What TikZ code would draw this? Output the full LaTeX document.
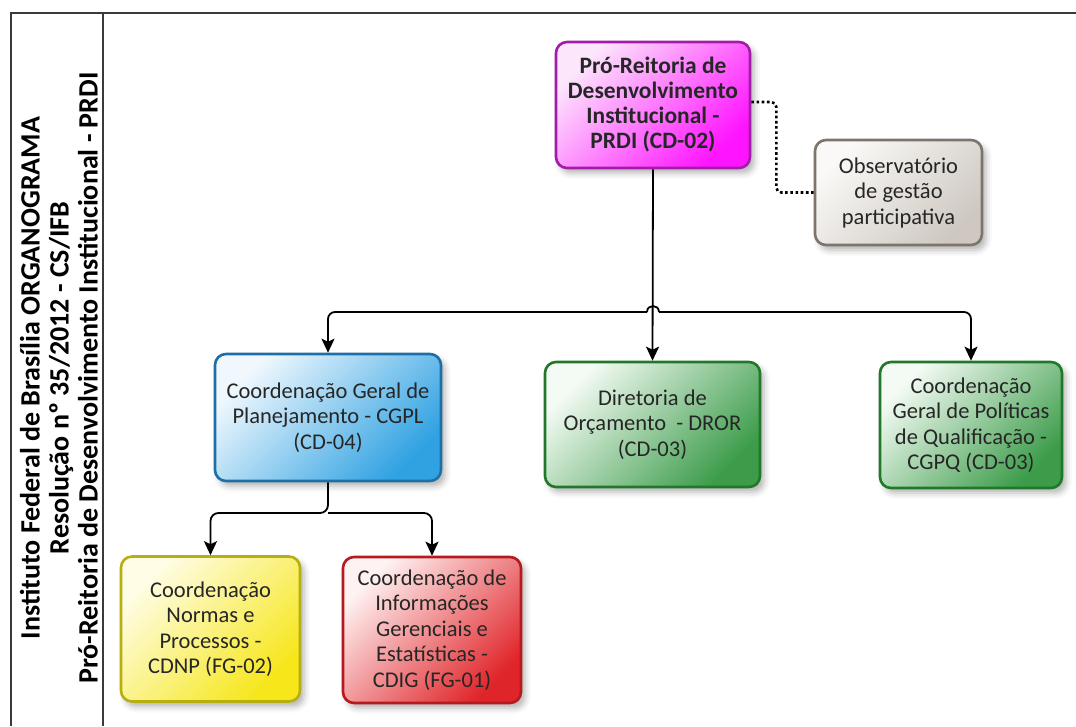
\documentclass[tikz,border=0pt]{standalone}
\usepackage{fontspec}
\setmainfont{Carlito}
\usetikzlibrary{arrows.meta,shadows.blur}

\definecolor{txt}{HTML}{262626}
\definecolor{framec}{HTML}{3A3A3A}
\definecolor{prdiB}{HTML}{A21CA8}
\definecolor{prdiL}{HTML}{FCE6FC}
\definecolor{prdiD}{HTML}{FF14FF}
\definecolor{obsB}{HTML}{7D746C}
\definecolor{obsL}{HTML}{FAF9F7}
\definecolor{obsD}{HTML}{CEC8C1}
\definecolor{bluB}{HTML}{1F6EA6}
\definecolor{bluL}{HTML}{F0F8FE}
\definecolor{bluD}{HTML}{30A2E2}
\definecolor{grnB}{HTML}{22782A}
\definecolor{grnL}{HTML}{F4FBF4}
\definecolor{grnD}{HTML}{3C9C4A}
\definecolor{yelB}{HTML}{B7AE10}
\definecolor{yelL}{HTML}{FFFDE6}
\definecolor{yelD}{HTML}{F6E61A}
\definecolor{redB}{HTML}{B41A1E}
\definecolor{redL}{HTML}{FFF2F2}
\definecolor{redD}{HTML}{E0252A}

\begin{document}
\begin{tikzpicture}[x=1pt,y=-1pt,
  box/.style={rounded corners=11pt, line width=2.6pt, align=center,
    inner sep=0pt, text=txt, font=\fontsize{22.5}{25.5}\selectfont,
    blur shadow={shadow xshift=4pt, shadow yshift=-5pt,
      shadow blur radius=6pt, shadow opacity=30}},
  tint/.style n args={3}{draw=#1, top color=#2, bottom color=#3, shading angle=45},
  conn/.style={line width=1.8pt, black},
  arr/.style={conn, -{Stealth[length=14pt, width=13pt, inset=3pt]}},
  dotc/.style={line width=2.6pt, black, dash pattern=on 2.6pt off 2.6pt}
]
\useasboundingbox (0,0) rectangle (1076,726);

% page frame with title column
\draw[line width=1.8pt, framec] (11,726) -- (11,13) -- (1076,13);
\draw[line width=1.8pt, framec] (103,13) -- (103,726);
\node[rotate=90, align=center, text=black, inner sep=0pt,
      font=\bfseries\fontsize{28}{29}\selectfont] (title) at (59,378)
  {Instituto Federal de Brasília ORGANOGRAMA\\
   Resolução nº 35/2012 - CS/IFB\\
   Pró-Reitoria de Desenvolvimento Institucional - PRDI};

% units
\node[box, tint={prdiB}{prdiL}{prdiD}, minimum width=194pt, minimum height=126pt,
      font=\bfseries\fontsize{23.5}{25}\selectfont] (prdi) at (653,105)
  {Pró-Reitoria de\\Desenvolvimento\\Institucional -\\PRDI (CD-02)};
\node[box, tint={obsB}{obsL}{obsD}, minimum width=167pt, minimum height=105pt] (obs) at (898.5,192.5)
  {Observatório\\de gestão\\participativa};
\node[box, tint={bluB}{bluL}{bluD}, minimum width=226pt, minimum height=127pt] (cgpl) at (328,417.5)
  {Coordenação Geral de\\Planejamento - CGPL\\(CD-04)};
\node[box, tint={grnB}{grnL}{grnD}, minimum width=215pt, minimum height=125pt] (dror) at (652.5,424.5)
  {Diretoria de\\Orçamento\ \ - DROR\\(CD-03)};
\node[box, tint={grnB}{grnL}{grnD}, minimum width=182pt, minimum height=126pt] (cgpq) at (971,425)
  {Coordenação\\Geral de Políticas\\de Qualificação -\\CGPQ (CD-03)};
\node[box, tint={yelB}{yelL}{yelD}, minimum width=179pt, minimum height=145pt] (cdnp) at (210.5,629)
  {Coordenação\\Normas e\\Processos -\\CDNP (FG-02)};
\node[box, tint={redB}{redL}{redD}, minimum width=178pt, minimum height=146pt] (cdig) at (432,630)
  {Coordenação de\\Informações\\Gerenciais e\\Estatísticas -\\CDIG (FG-01)};

% connectors
\coordinate (j) at (prdi.south |- 0,312);
\coordinate (s) at (cgpl.south |- 0,513);
\draw[arr] (prdi.south) -- (dror.north);
\draw[arr, rounded corners=7pt] ([xshift=-6pt]j) -| (cgpl.north);
\draw[arr, rounded corners=7pt] ([xshift=6pt]j) -| (cgpq.north);
\draw[conn] ([xshift=-6pt]j) .. controls ([xshift=-6pt,yshift=8pt]j)
  and ([xshift=6pt,yshift=8pt]j) .. ([xshift=6pt]j);
\draw[arr, rounded corners=8pt] (cgpl.south) -- (s) -| (cdnp.north);
\draw[arr, rounded corners=8pt] (s) -| (cdig.north);
\draw[dotc, rounded corners=5pt] ([yshift=3pt]prdi.east) -- ++(25,0) |- (obs.west);
\end{tikzpicture}
\end{document}
